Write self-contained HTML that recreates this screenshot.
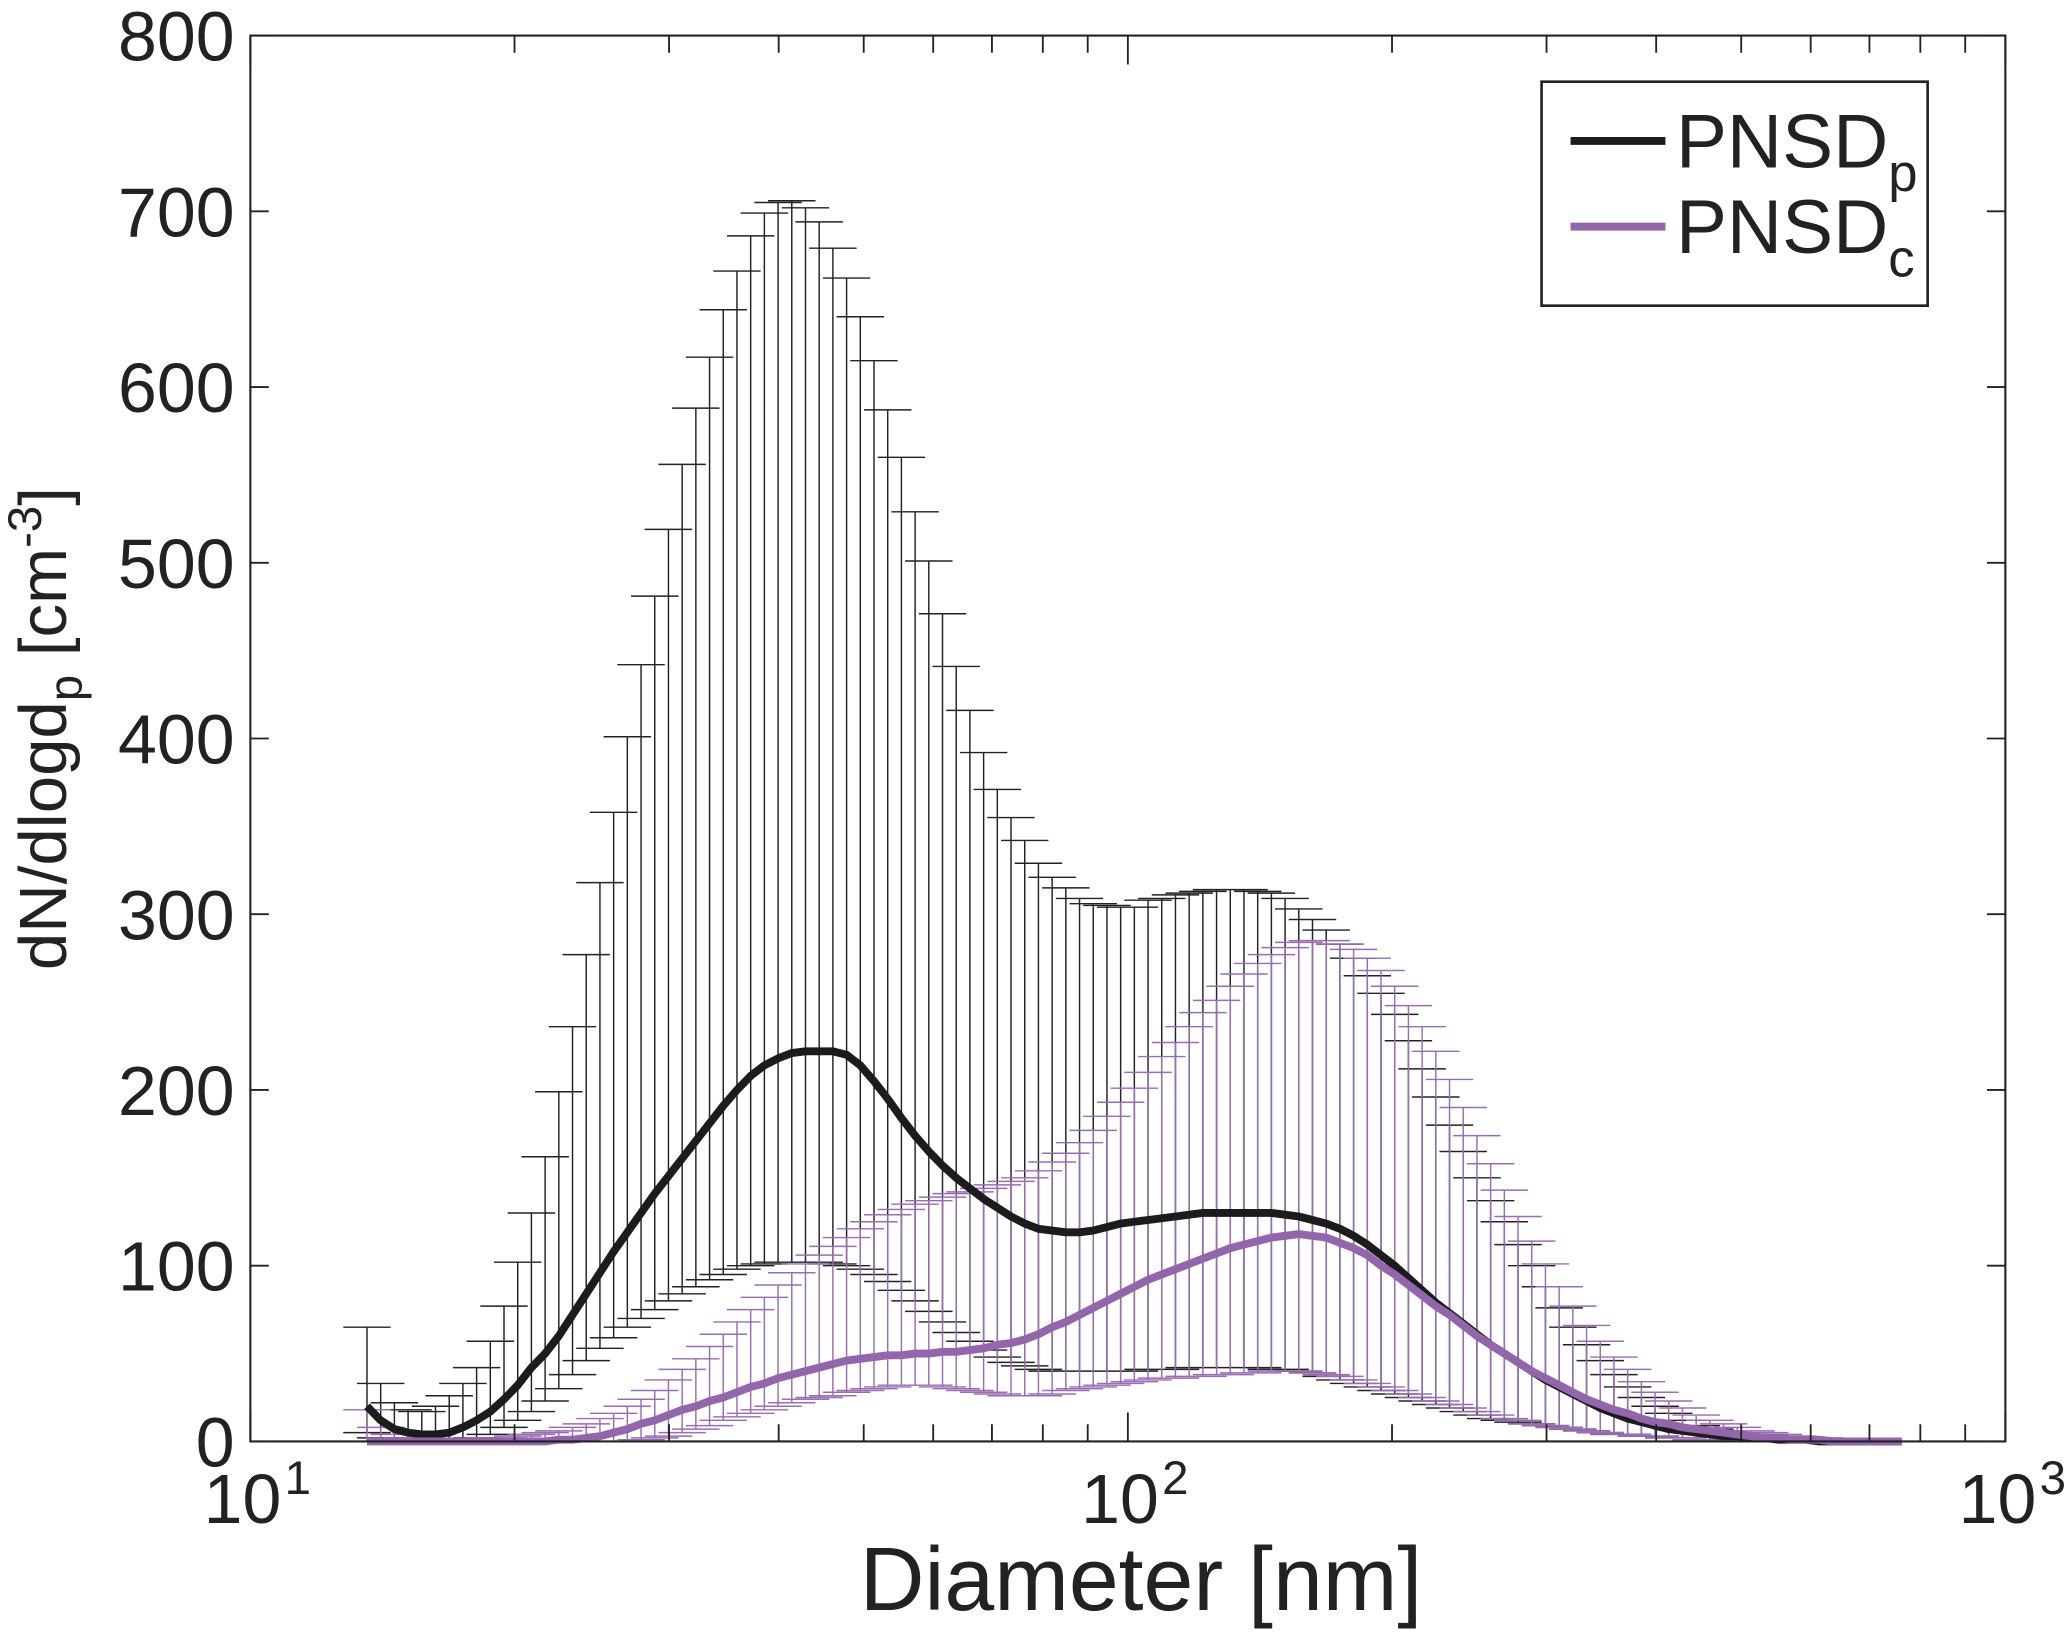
<!DOCTYPE html>
<html><head><meta charset="utf-8"><style>html,body{margin:0;padding:0;background:#fff}svg{display:block}text{font-family:"Liberation Sans",Arial,sans-serif;fill:#222}</style></head>
<body>
<svg id="chart" width="2066" height="1633" viewBox="0 0 1568 1239.4" xmlns="http://www.w3.org/2000/svg">
<g id="plot"></g>
</svg>
<script>
const firstDiam=13.58;
const logStep=0.015616;
const nBins=113;
const diam=[];
for(let k=0;k<nBins;k++){diam.push(firstDiam*Math.pow(10,logStep*k));}
const pUpper=[65,33,22,18,17,20,26,33,42,57,
77,102,130,162,199,236,277,318,358,401,
442,481,519,556,588,617,644,666,686,699,
705,706,702,694,679,662,640,615,587,560,
529,501,471,441,416,392,371,355,342,329,
321,315,309,306,305,304,304,308,309,311,
312,313,314,314,314,313,312,309,303,297,
291,283,275,265,255,243,228,212,196,180,
165,150,137,125,112,100,88,76,65,55,
46,38,31,25,20,16,12,9,7,5,
4,3,2,2,1,1,1,0,0,0,
0,0,0];
const pMean=[20,12,7,5,4,4,5,8,12,17,
24,32,42,50,60,72,84,96,108,119,
130,141,151,161,171,181,191,200,208,214,
218,221,222,222,222,220,214,205,195,184,
174,165,157,150,144,138,133,128,124,121,
120,119,119,120,122,124,125,126,127,128,
129,130,130,130,130,130,130,129,128,126,
124,121,117,112,106,100,93,86,79,73,
67,61,55,50,45,40,35,31,27,23,
19,16,13,11,9,7,6,5,4,3,
3,2,2,1,1,1,0,0,0,0,
0,0,0];
const pLower=[5,2,1,0,0,0,0,1,2,4,
8,12,17,23,30,38,46,53,59,65,
70,75,80,84,88,92,95,98,100,101,
102,102,102,102,101,100,98,95,91,86,
80,74,68,62,57,52,48,45,43,41,
40,40,40,40,40,40,40,41,41,41,
42,42,42,42,42,42,41,41,40,39,
37,35,33,31,29,27,25,23,21,19,
17,15,13,12,11,10,9,8,7,6,
5,4,4,3,3,2,2,1,1,1,
0,0,0,0,0,0,0,0,0,0,
0,0,0];
const cMean=[0,0,0,0,0,0,0,0,0,0,
0,0,0,0,1,1,2,3,5,7,
10,12,15,18,20,23,25,28,31,33,
36,38,40,42,44,46,47,48,49,49,
50,50,51,51,52,53,55,56,58,61,
65,68,72,76,80,84,88,92,95,98,
101,104,107,110,112,114,116,117,118,117,
116,113,110,106,100,95,89,83,77,72,
66,60,55,50,45,40,36,32,28,24,
21,18,16,13,11,10,8,7,6,5,
4,3,2,2,1,1,1,0,0,0,
0,0,0];
const cUpper=[18,8,4,2,1,1,1,1,1,2,
2,3,4,5,6,8,10,13,16,20,
24,29,35,41,47,54,61,68,75,82,
89,96,101,106,111,116,121,125,129,132,
135,137,139,141,142,144,146,148,150,154,
159,164,170,177,185,193,201,210,219,227,
236,244,251,259,266,272,277,281,284,285,
285,283,280,275,268,259,248,236,222,206,
190,174,158,143,128,114,101,88,77,66,
57,48,41,34,28,23,19,15,12,10,
8,6,5,4,3,2,2,1,1,1,
0,0,0];
const cLower=[0,0,0,0,0,0,0,0,0,0,
0,0,0,0,0,0,0,0,0,0,
1,2,3,5,7,9,12,14,16,18,
20,22,24,25,26,28,29,30,31,32,
32,32,31,30,29,28,27,26,26,26,
27,29,30,31,32,33,34,35,36,36,
37,37,38,38,39,39,40,40,40,39,
38,37,35,33,31,29,27,25,23,21,
19,17,15,13,12,10,9,8,7,6,
5,4,4,3,3,2,2,1,1,1,
0,0,0,0,0,0,0,0,0,0,
0,0,0];
const yTicks=[0,100,200,300,400,500,600,700,800];
const xDecades=[1,2,3];

const L=190,R=1522,T=27,B=1094;
const X=d=>L+(Math.log10(d)-1)/2*(R-L);
const Y=v=>B-v/800*(B-T);
const NS="http://www.w3.org/2000/svg";
const g=document.getElementById('plot');
function mk(tag,attrs,parent){const e=document.createElementNS(NS,tag);for(const k in attrs)e.setAttribute(k,attrs[k]);(parent||g).appendChild(e);return e;}

function errBars(lo,hi,color,name){
  const grp=mk('g',{});
  
  
  let d='';
  diam.forEach((x,i)=>{const px=X(x),a=Y(lo[i]),b=Y(hi[i]);
    d+=`M${px},${a}V${b}M${px-18},${b}H${px+18}M${px-18},${a}H${px+18}`;});
  const p=mk('path',{d:d,stroke:color,'stroke-width':1.1,fill:'none'},grp);
  
  
}
function line(vals,color,name){
  const p=mk('path',{d:diam.map((x,i)=>(i?'L':'M')+X(x)+','+Y(vals[i])).join(''),stroke:color,'stroke-width':6,fill:'none','stroke-linejoin':'round'});
  
  
}
errBars(pLower,pUpper,'#222','pnsd-p-error-bars');
errBars(cLower,cUpper,'#9a6cb4','pnsd-c-error-bars');
line(pMean,'#1c1c1c','pnsd-p-line');
line(cMean,'#9366ab','pnsd-c-line');

const box=mk('rect',{x:L,y:T,width:R-L,height:B-T,fill:'none',stroke:'#222','stroke-width':1.6});


let td='';
yTicks.forEach(v=>{const y=Y(v);td+=`M${L},${y}H${L+14}M${R},${y}H${R-14}`;
  const t=mk('text',{x:L-12,y:y+19,'text-anchor':'end','font-size':53});t.textContent=v;
  
  });
xDecades.forEach(e=>{const x=X(Math.pow(10,e));td+=`M${x},${B}V${B-22}M${x},${T}V${T+22}`;
  const t=mk('text',{x:x-6,y:B+62,'text-anchor':'middle','font-size':53});t.textContent='10';
  
  
  const s=mk('text',{x:x+26,y:B+40,'font-size':36});s.textContent=e;
  
  
  if(e<3){for(let m=2;m<10;m++){const xm=X(m*Math.pow(10,e));td+=`M${xm},${B}V${B-13}M${xm},${T}V${T+13}`;}}
});
const tk=mk('path',{d:td,stroke:'#222','stroke-width':1.4,fill:'none'});


</script>
<script>
(function(){
const NS="http://www.w3.org/2000/svg";const s=document.getElementById('chart');
const g=document.createElementNS(NS,'g');
g.innerHTML=`<text x="866" y="1222" text-anchor="middle" font-size="68">Diameter [nm]</text>
<text transform="translate(50,553) rotate(-90)" text-anchor="middle" font-size="51">dN/dlogd<tspan font-size="36" dy="12">p</tspan><tspan dy="-12"> [cm</tspan><tspan font-size="36" dy="-19">-3</tspan><tspan dy="19">]</tspan></text>
<g>
<rect x="1170" y="62" width="293" height="170" fill="#fff" stroke="#222" stroke-width="2"/>
<line x1="1192" y1="107" x2="1264" y2="107" stroke="#1c1c1c" stroke-width="6"/>
<text x="1272" y="127" font-size="58">PNSD<tspan font-size="40" dy="18">p</tspan></text>
<line x1="1192" y1="172" x2="1264" y2="172" stroke="#9366ab" stroke-width="6"/>
<text x="1272" y="192" font-size="58">PNSD<tspan font-size="40" dy="18">c</tspan></text>
</g>`;
s.appendChild(g);
})();
</script>
</body></html>
